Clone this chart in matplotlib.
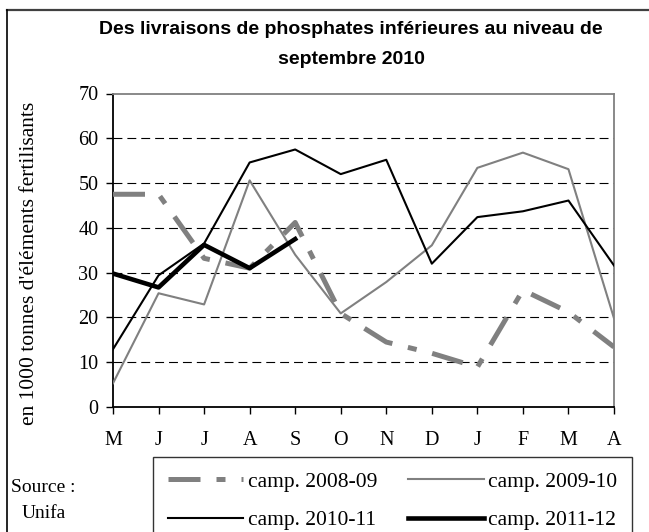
import matplotlib.pyplot as plt
from matplotlib.lines import Line2D

months = ["M", "J", "J", "A", "S", "O", "N", "D", "J", "F", "M", "A"]
camp_0809 = [47.5, 47.5, 33.2, 31, 41.2, 20.9, 14.5, 12, 8.9, 26.1, 21.2, 13.4]
camp_0910 = [5.3, 25.4, 22.9, 50.6, 34, 20.9, 27.9, 36.1, 53.4, 56.8, 53.1, 19.8]
camp_1011 = [12.9, 29.4, 36.5, 54.6, 57.5, 52, 55.2, 32, 42.4, 43.7, 46.1, 31.6]
camp_1112 = [29.8, 26.7, 36.2, 31, 37.5]
labels = ["camp. 2008-09", "camp. 2009-10", "camp. 2010-11", "camp. 2011-12"]

gray = "#808080"
serif = "Liberation Serif"
W, H = 649, 532

fig = plt.figure(figsize=(W / 100, H / 100), dpi=100)
# plot area in pixels: x 113..614, y 93.5..407
ax = fig.add_axes([113 / W, 1 - 407 / H, (614 - 113) / W, (407 - 93.5) / H])

x = list(range(len(months)))
l1, = ax.plot(x, camp_0809, color=gray, lw=3.6, dashes=(6.4, 3.2, 1.8, 3.2), zorder=3)
l2, = ax.plot(x, camp_0910, color=gray, lw=1.5, zorder=3)
l3, = ax.plot(x, camp_1011, color="black", lw=1.5, zorder=4)
l4, = ax.plot(range(len(camp_1112)), camp_1112, color="black", lw=3.3, zorder=5)

ax.set_xlim(0, 11)
ax.set_ylim(0, 70)
ax.set_yticks(range(0, 71, 10))
ax.set_xticks(x)
ax.set_xticklabels(months, fontfamily=serif, fontsize=14.5)
for t in ax.get_yticklabels():
    t.set_fontfamily(serif)
    t.set_fontsize(14.5)
for yv in range(10, 70, 10):
    ax.axhline(yv, color="black", lw=0.8, dashes=(8, 4.5), zorder=1)

ax.spines["left"].set_color("black")
ax.spines["bottom"].set_color("black")
ax.spines["top"].set_color(gray)
ax.spines["right"].set_color(gray)
for s in ax.spines.values():
    s.set_linewidth(1.3)
ax.tick_params(axis="both", direction="out", length=5, width=1, color="black")
ax.tick_params(axis="y", pad=5.5)
ax.tick_params(axis="x", pad=12.5)

fig.text(30 / W, 1 - 263.5 / H, "en 1000 tonnes d'éléments fertilisants", rotation=90,
         ha="center", va="center", fontfamily=serif, fontsize=15.5)

fig.text(351 / W, 1 - 29 / H, "Des livraisons de phosphates inférieures au niveau de",
         ha="center", va="center", fontfamily="Liberation Sans", fontweight="bold", fontsize=14)
fig.text(351 / W, 1 - 59 / H, "septembre 2010",
         ha="center", va="center", fontfamily="Liberation Sans", fontweight="bold", fontsize=14)

fig.text(11 / W, 1 - 487 / H, "Source :", fontfamily=serif, fontsize=14, va="center")
fig.text(22 / W, 1 - 514 / H, "Unifa", fontfamily=serif, fontsize=14, va="center")

# outer frame: only the top and left edges are visible
fig.add_artist(Line2D([7 / W, 1], [1 - 10 / H, 1 - 10 / H], color="#404040", lw=1.6))
fig.add_artist(Line2D([7 / W, 7 / W], [0, 1 - 10 / H], color="black", lw=1.2))

leg = fig.legend([l1, l3, l2, l4], [labels[0], labels[2], labels[1], labels[3]],
                 ncol=2, loc="upper left", bbox_to_anchor=(153 / W, 1 - 457 / H),
                 frameon=True, fancybox=False, edgecolor="black",
                 prop={"family": serif, "size": 15.5}, handlelength=3.5,
                 handletextpad=0.22, borderpad=0.68, labelspacing=0.85, columnspacing=1.45,
                 borderaxespad=0)
leg.get_frame().set_linewidth(1.0)

fig.savefig("out.png", dpi=100)
